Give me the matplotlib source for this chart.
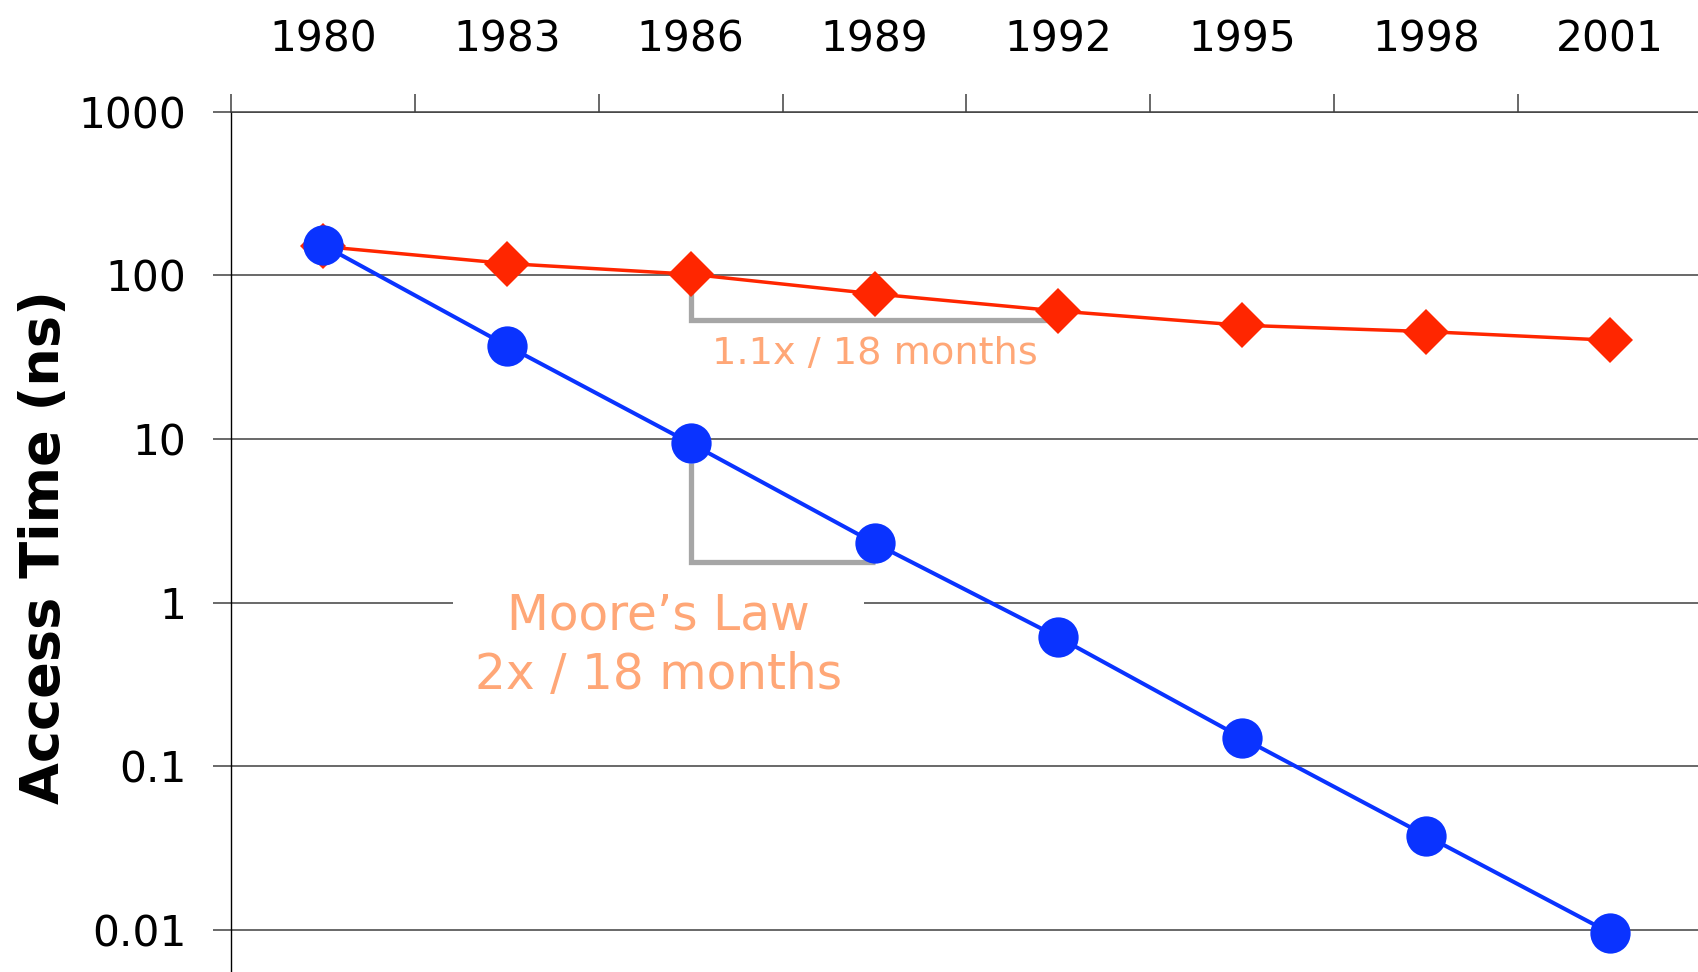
#!/usr/bin/env python

import numpy as np
import matplotlib
matplotlib.use("Agg")
import matplotlib.pyplot as plt

# data
years = ["1980", "1983", "1986", "1989", "1992", "1995", "1998", "2001"]
cpu_time = [153, 37.2, 9.4, 2.31, 0.614, 0.149, 0.0377, 0.0096]
dram_time = [150, 118, 101.5, 77, 60.5, 49.5, 45.3, 40.1]
y_ticks = [0.01, 0.1, 1, 10, 100, 1000]
y_tick_labels = ["0.01", "0.1", "1", "10", "100", "1000"]

# slope brackets (category units, ns)
dram_bracket_x = [2.5, 2.5, 4.5]
dram_bracket_y = [84.5, 53.5, 53.5]
cpu_bracket_x = [2.5, 2.5, 3.5]
cpu_bracket_y = [7.15, 1.77, 1.77]

plt.rcParams['font.family'] = ['DejaVu Sans']

red = '#FF2600'
blue = '#0A33FF'
grey = '#A6A6A6'
grid_col = '#404040'

fig = plt.figure(figsize=(16.99, 9.72), dpi=100)
ax = fig.add_axes([231/1699, 0.0, 1471/1699, 1 - 111.6/972])

x = np.arange(len(years)) + 0.5

# brackets below the series
ax.plot(dram_bracket_x, dram_bracket_y, color=grey, lw=3.8, zorder=3,
        solid_joinstyle='miter', solid_capstyle='butt')
ax.plot(cpu_bracket_x, cpu_bracket_y, color=grey, lw=3.8, zorder=3,
        solid_joinstyle='miter', solid_capstyle='butt')

ax.plot(x, dram_time, color=red, lw=2.5, marker='D', ms=23,
        markeredgewidth=0, zorder=4)
ax.plot(x, cpu_time, color=blue, lw=2.9, marker='o', ms=29,
        markeredgewidth=0, zorder=5)

ax.set_yscale('log')
ax.set_ylim(0.00554, 1000)
ax.set_xlim(0, 8)

# y axis
ax.set_yticks(y_ticks)
ax.set_yticklabels(y_tick_labels)
ax.yaxis.set_minor_locator(matplotlib.ticker.NullLocator())
ax.tick_params(axis='y', which='major', length=13, width=1.1, color=grid_col,
               pad=19, labelsize=30.5, direction='out')
ax.yaxis.grid(True, which='major', color=grid_col, lw=1.1, zorder=1)
ax.set_axisbelow(True)

# x axis on top: ticks at category boundaries, labels at centres
ax.xaxis.set_ticks_position('top')
ax.set_xticks(np.arange(0, 8))
ax.set_xticklabels([])
ax.set_xticks(x, minor=True)
ax.set_xticklabels(years, minor=True)
ax.tick_params(axis='x', which='major', length=13, width=1.1, color=grid_col,
               direction='out')
ax.tick_params(axis='x', which='minor', length=0, pad=37, labelsize=30.5)

for s in ['right', 'bottom']:
    ax.spines[s].set_visible(False)
ax.spines['top'].set_color(grid_col)
ax.spines['top'].set_linewidth(1.1)
ax.spines['left'].set_color('black')
ax.spines['left'].set_linewidth(1.0)

# annotations
ax.text(3.5, 33, "1.1x / 18 months", color='#FFA777', fontsize=27.5,
        ha='center', va='center', zorder=6)
ax.text(2.325, 0.547, "Moore\u2019s Law\n2x / 18 months", color='#FFA777',
        fontsize=35, ha='center', va='center', linespacing=1.3, zorder=2,
        bbox=dict(boxstyle='square,pad=0.45', facecolor='white', edgecolor='none'))

fig.text(44/1699, 1 - 547/972, "Access Time (ns)", rotation=90, fontsize=39,
         fontweight='bold', ha='center', va='center')

fig.savefig("out.png", dpi=100)
